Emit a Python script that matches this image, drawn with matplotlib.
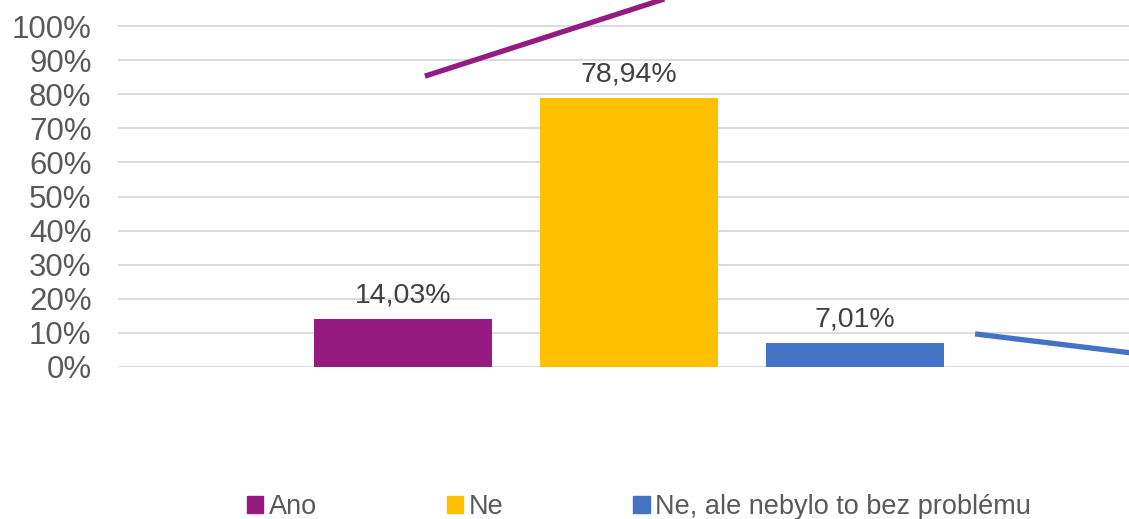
import matplotlib
matplotlib.use("Agg")
import matplotlib.pyplot as plt
from matplotlib.patches import Patch

categories = ["Ano", "Ne", "Ne, ale nebylo to bez problému"]
values = [0.1403, 0.7894, 0.0701]
labels = ["14,03%", "78,94%", "7,01%"]
colors = ["#951B81", "#FFC000", "#4472C4"]
yticks = [0.0, 0.1, 0.2, 0.3, 0.4, 0.5, 0.6, 0.7, 0.8, 0.9, 1.0]
ytick_labels = ["0%", "10%", "20%", "30%", "40%", "50%", "60%", "70%", "80%", "90%", "100%"]

# stray leader lines left over in the original chart
purple_x = [0.097, 1.30]
purple_y = [0.853, 1.11]
blue_x = [2.531, 3.40]
blue_y = [0.097, 0.027]

plt.rcParams['font.family'] = ['Liberation Sans', 'DejaVu Sans']

fig = plt.figure(figsize=(11.29, 5.19), dpi=100)
ax = fig.add_axes([118/1129, 1 - 367/519, 1 - 118/1129, 367/519])

x = range(len(categories))
ax.bar(x, values, width=0.788, color=colors, zorder=2)
for xi, v, lab in zip(x, values, labels):
    ax.annotate(lab, (xi, v), xytext=(0, 7.5), textcoords="offset points",
                ha="center", va="bottom", fontsize=20.5, color="#404040")

ax.plot(purple_x, purple_y, color=colors[0], lw=3.8, solid_capstyle="butt", zorder=3)
ax.plot(blue_x, blue_y, color=colors[2], lw=3.8, solid_capstyle="butt", zorder=3)

ax.set_xlim(-1.261, 3.212)
ax.set_ylim(0, 367/341)
ax.set_yticks(yticks)
ax.set_yticklabels(ytick_labels, fontsize=22.5, color="#595959")
ax.set_xticks([])
ax.tick_params(axis="y", length=0, pad=19)
ax.grid(axis="y", color="#D9D9D9", lw=1.3, zorder=0)
for s in ax.spines.values():
    s.set_visible(False)

handles = [Patch(color=c) for c in colors]
fig.legend(handles, categories, loc="center", bbox_to_anchor=(639/1129, 1 - 507/519),
           ncol=3, frameon=False, fontsize=19.5, labelcolor="#595959",
           handlelength=0.6, handleheight=0.6, handletextpad=0.2, columnspacing=4.8,
           borderaxespad=0)

fig.savefig("out.png", dpi=100)
